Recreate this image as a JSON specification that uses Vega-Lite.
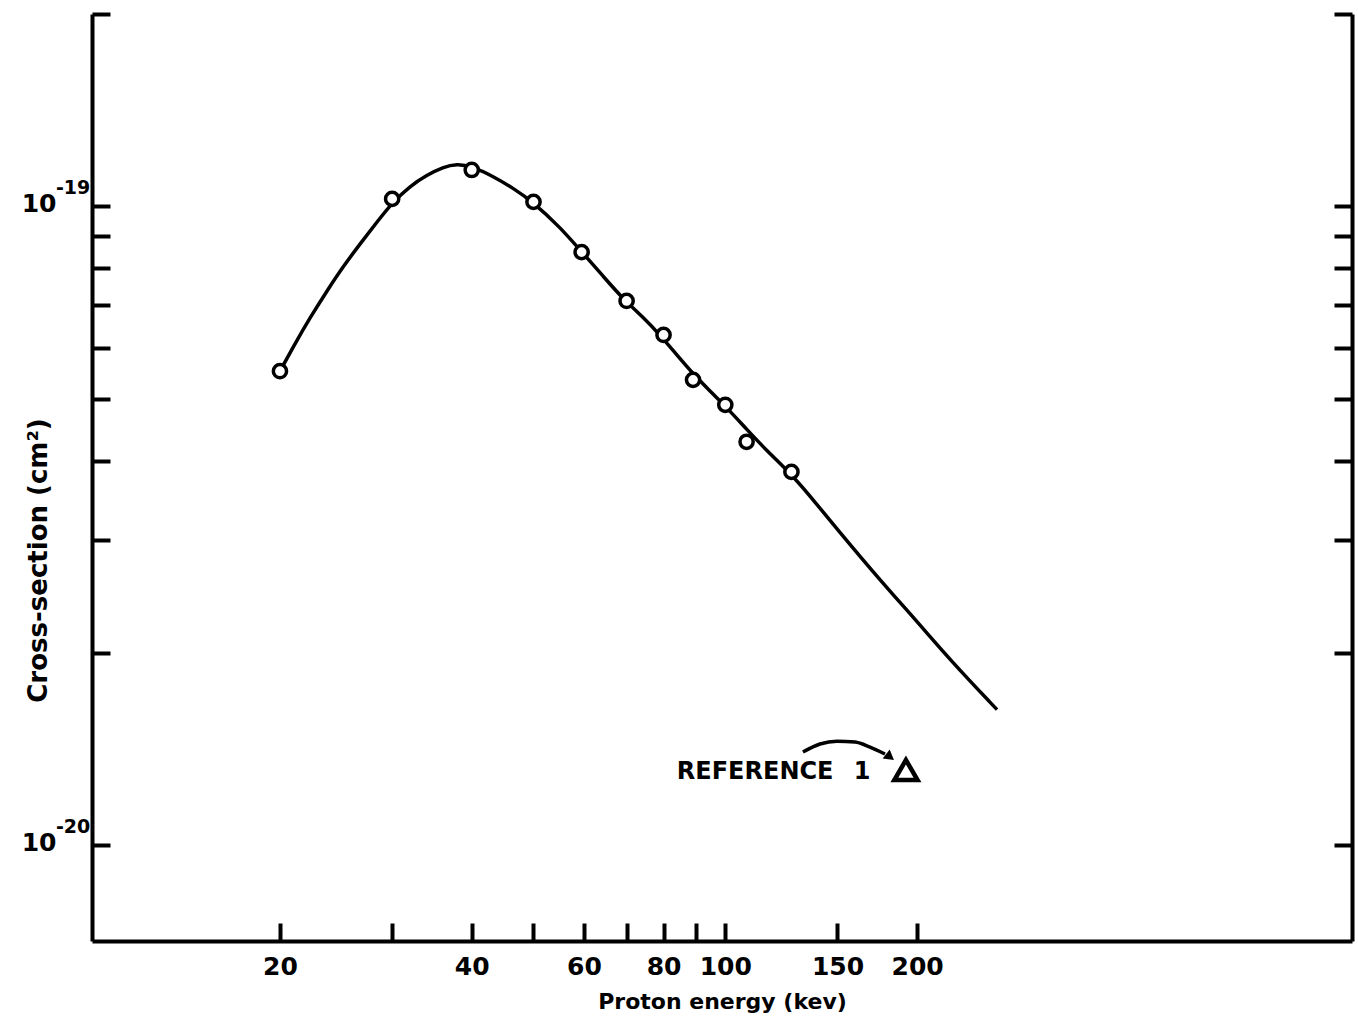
{
  "$schema": "https://vega.github.io/schema/vega-lite/v6.json",
  "width": 1260,
  "height": 927,
  "autosize": {"type": "none"},
  "padding": {"left": 92, "top": 14, "right": 6, "bottom": 78},
  "background": "white",
  "config": {"view": {"stroke": null}},
  "resolve": {"axis": {"y": "independent"}},
  "layer": [
    {
      "data": {"values": [
        {"energy": 20, "sigma": 5.52e-20},
        {"energy": 21.11, "sigma": 6.09e-20},
        {"energy": 22.29, "sigma": 6.69e-20},
        {"energy": 23.7, "sigma": 7.37e-20},
        {"energy": 25.11, "sigma": 8.04e-20},
        {"energy": 26.71, "sigma": 8.73e-20},
        {"energy": 28.4, "sigma": 9.45e-20},
        {"energy": 29.98, "sigma": 1.012e-19},
        {"energy": 32.0, "sigma": 1.076e-19},
        {"energy": 34.02, "sigma": 1.119e-19},
        {"energy": 36.06, "sigma": 1.152e-19},
        {"energy": 37.93, "sigma": 1.165e-19},
        {"energy": 39.89, "sigma": 1.156e-19},
        {"energy": 43.19, "sigma": 1.115e-19},
        {"energy": 46.43, "sigma": 1.068e-19},
        {"energy": 49.9, "sigma": 1.016e-19},
        {"energy": 55.01, "sigma": 9.28e-20},
        {"energy": 59.37, "sigma": 8.51e-20},
        {"energy": 64.27, "sigma": 7.78e-20},
        {"energy": 68.84, "sigma": 7.19e-20},
        {"energy": 74.26, "sigma": 6.71e-20},
        {"energy": 78.99, "sigma": 6.29e-20},
        {"energy": 83.99, "sigma": 5.85e-20},
        {"energy": 88.99, "sigma": 5.47e-20},
        {"energy": 94.62, "sigma": 5.14e-20},
        {"energy": 99.55, "sigma": 4.89e-20},
        {"energy": 108.2, "sigma": 4.47e-20},
        {"energy": 116.3, "sigma": 4.14e-20},
        {"energy": 126.8, "sigma": 3.81e-20},
        {"energy": 134.9, "sigma": 3.55e-20},
        {"energy": 149.2, "sigma": 3.14e-20},
        {"energy": 174.9, "sigma": 2.6e-20},
        {"energy": 199.2, "sigma": 2.25e-20},
        {"energy": 225.3, "sigma": 1.95e-20},
        {"energy": 267.0, "sigma": 1.63e-20}
      ]},
      "mark": {"type": "line", "color": "black", "strokeWidth": 3.5, "interpolate": "basis"},
      "encoding": {
        "x": {"field": "energy", "type": "quantitative",
          "scale": {"type": "log", "domain": [10.14, 963], "nice": false, "zero": false},
          "axis": {"orient": "bottom", "values": [20, 30, 40, 50, 60, 70, 80, 90, 100, 150, 200],
            "labelExpr": "indexof([20,40,60,80,100,150,200], datum.value) >= 0 ? format(datum.value, 'd') : ''",
            "labelFont": "DejaVu Sans", "labelFontWeight": "bold", "labelFontSize": 25, "labelColor": "black",
            "labelBaseline": "top", "labelPadding": 31, "labelFlush": false, "labelOverlap": false,
            "tickSize": -18, "tickWidth": 4, "tickColor": "black", "domainWidth": 4, "domainColor": "black",
            "grid": false, "title": "Proton energy (kev)", "titleFont": "DejaVu Sans", "titleFontSize": 22,
            "titleFontWeight": "bold", "titleColor": "black", "titleBaseline": "alphabetic", "titleY": 67}},
        "y": {"field": "sigma", "type": "quantitative",
          "scale": {"type": "log", "domain": [7.08e-21, 2e-19], "nice": false, "zero": false},
          "axis": {"orient": "left", "values": [2e-19, 1e-19, 9e-20, 8e-20, 7e-20, 6e-20, 5e-20, 4e-20, 3e-20, 2e-20, 1e-20],
            "labelExpr": "(abs(log(datum.value)/LN10 + 19) < 0.01 || abs(log(datum.value)/LN10 + 20) < 0.01) ? '10' : ''",
            "labelFont": "DejaVu Sans", "labelFontWeight": "bold", "labelFontSize": 25, "labelColor": "black",
            "labelAlign": "right", "labelBaseline": "alphabetic", "labelOffset": 5,
            "labelPadding": 54, "labelOverlap": false, "labelFlush": false,
            "tickSize": -18, "tickWidth": 4, "tickColor": "black", "domainWidth": 4, "domainColor": "black",
            "grid": false, "title": "Cross-section (cm²)", "titleFont": "DejaVu Sans", "titleFontSize": 26,
            "titleFontWeight": "bold", "titleColor": "black", "titleAngle": -90, "titleAlign": "center",
            "titleBaseline": "middle", "titleX": -54, "titleY": 546}}
      }
    },
    {
      "data": {"values": [
        {"energy": 20, "sigma": 5.52e-20},
        {"energy": 30, "sigma": 1.027e-19},
        {"energy": 40, "sigma": 1.14e-19},
        {"energy": 50, "sigma": 1.016e-19},
        {"energy": 59.5, "sigma": 8.48e-20},
        {"energy": 70, "sigma": 7.11e-20},
        {"energy": 80, "sigma": 6.29e-20},
        {"energy": 89, "sigma": 5.35e-20},
        {"energy": 100, "sigma": 4.89e-20},
        {"energy": 108, "sigma": 4.28e-20},
        {"energy": 127, "sigma": 3.84e-20}
      ]},
      "mark": {"type": "point", "shape": "circle", "filled": true, "fill": "white", "stroke": "black", "strokeWidth": 3.5, "size": 175, "opacity": 1},
      "encoding": {
        "x": {"field": "energy", "type": "quantitative",
          "scale": {"type": "log", "domain": [10.14, 963], "nice": false, "zero": false},
          "axis": {"orient": "bottom", "values": [20, 30, 40, 50, 60, 70, 80, 90, 100, 150, 200],
            "labelExpr": "indexof([20,40,60,80,100,150,200], datum.value) >= 0 ? format(datum.value, 'd') : ''",
            "labelFont": "DejaVu Sans", "labelFontWeight": "bold", "labelFontSize": 25, "labelColor": "black",
            "labelBaseline": "top", "labelPadding": 31, "labelFlush": false, "labelOverlap": false,
            "tickSize": -18, "tickWidth": 4, "tickColor": "black", "domainWidth": 4, "domainColor": "black",
            "grid": false, "title": "Proton energy (kev)", "titleFont": "DejaVu Sans", "titleFontSize": 22,
            "titleFontWeight": "bold", "titleColor": "black", "titleBaseline": "alphabetic", "titleY": 67}},
        "y": {"field": "sigma", "type": "quantitative",
          "scale": {"type": "log", "domain": [7.08e-21, 2e-19], "nice": false, "zero": false},
          "axis": {"orient": "right", "values": [2e-19, 1e-19, 9e-20, 8e-20, 7e-20, 6e-20, 5e-20, 4e-20, 3e-20, 2e-20, 1e-20],
            "labels": false, "tickSize": -18, "tickWidth": 4, "tickColor": "black",
            "domainWidth": 4, "domainColor": "black", "grid": false, "title": null}}
      }
    },
    {
      "data": {"values": [
        {"energy": 132.4, "sigma": 1.399e-20},
        {"energy": 140.8, "sigma": 1.44e-20},
        {"energy": 149.7, "sigma": 1.455e-20},
        {"energy": 159.8, "sigma": 1.45e-20},
        {"energy": 168.7, "sigma": 1.424e-20},
        {"energy": 178.1, "sigma": 1.389e-20}
      ]},
      "mark": {"type": "line", "color": "black", "strokeWidth": 3.5, "interpolate": "monotone"},
      "encoding": {
        "x": {"field": "energy", "type": "quantitative",
          "scale": {"type": "log", "domain": [10.14, 963], "nice": false, "zero": false}},
        "y": {"field": "sigma", "type": "quantitative",
          "scale": {"type": "log", "domain": [7.08e-21, 2e-19], "nice": false, "zero": false}, "axis": null}
      }
    },
    {
      "data": {"values": [
        {"energy": 181.4, "sigma": 1.374e-20}
      ]},
      "mark": {"type": "point", "shape": "triangle-right", "filled": true, "color": "black", "size": 130, "angle": 38, "opacity": 1},
      "encoding": {
        "x": {"field": "energy", "type": "quantitative",
          "scale": {"type": "log", "domain": [10.14, 963], "nice": false, "zero": false}},
        "y": {"field": "sigma", "type": "quantitative",
          "scale": {"type": "log", "domain": [7.08e-21, 2e-19], "nice": false, "zero": false}, "axis": null}
      }
    },
    {
      "data": {"values": [
        {"energy": 192.1, "sigma": 1.311e-20}
      ]},
      "mark": {"type": "point", "shape": "triangle-up", "filled": false, "stroke": "black", "strokeWidth": 4.5, "size": 540, "opacity": 1},
      "encoding": {
        "x": {"field": "energy", "type": "quantitative",
          "scale": {"type": "log", "domain": [10.14, 963], "nice": false, "zero": false}},
        "y": {"field": "sigma", "type": "quantitative",
          "scale": {"type": "log", "domain": [7.08e-21, 2e-19], "nice": false, "zero": false}, "axis": null}
      }
    },
    {
      "data": {"values": [
        {"energy": 111.4, "sigma": 1.302e-20, "label": "REFERENCE"},
        {"energy": 163.9, "sigma": 1.302e-20, "label": "1"}
      ]},
      "mark": {"type": "text", "font": "DejaVu Sans", "fontWeight": "bold", "fontSize": 24, "color": "black", "align": "center", "baseline": "middle"},
      "encoding": {
        "x": {"field": "energy", "type": "quantitative",
          "scale": {"type": "log", "domain": [10.14, 963], "nice": false, "zero": false}},
        "y": {"field": "sigma", "type": "quantitative",
          "scale": {"type": "log", "domain": [7.08e-21, 2e-19], "nice": false, "zero": false}, "axis": null},
        "text": {"field": "label", "type": "nominal"}
      }
    },
    {
      "data": {"values": [
        {"energy": 8.9, "sigma": 1.044e-19, "label": "-19"},
        {"energy": 8.9, "sigma": 1.044e-20, "label": "-20"}
      ]},
      "mark": {"type": "text", "font": "DejaVu Sans", "fontWeight": "bold", "fontSize": 19, "color": "black", "align": "left", "baseline": "alphabetic", "clip": false},
      "encoding": {
        "x": {"field": "energy", "type": "quantitative",
          "scale": {"type": "log", "domain": [10.14, 963], "nice": false, "zero": false}},
        "y": {"field": "sigma", "type": "quantitative",
          "scale": {"type": "log", "domain": [7.08e-21, 2e-19], "nice": false, "zero": false}, "axis": null},
        "text": {"field": "label", "type": "nominal"}
      }
    }
  ]
}
